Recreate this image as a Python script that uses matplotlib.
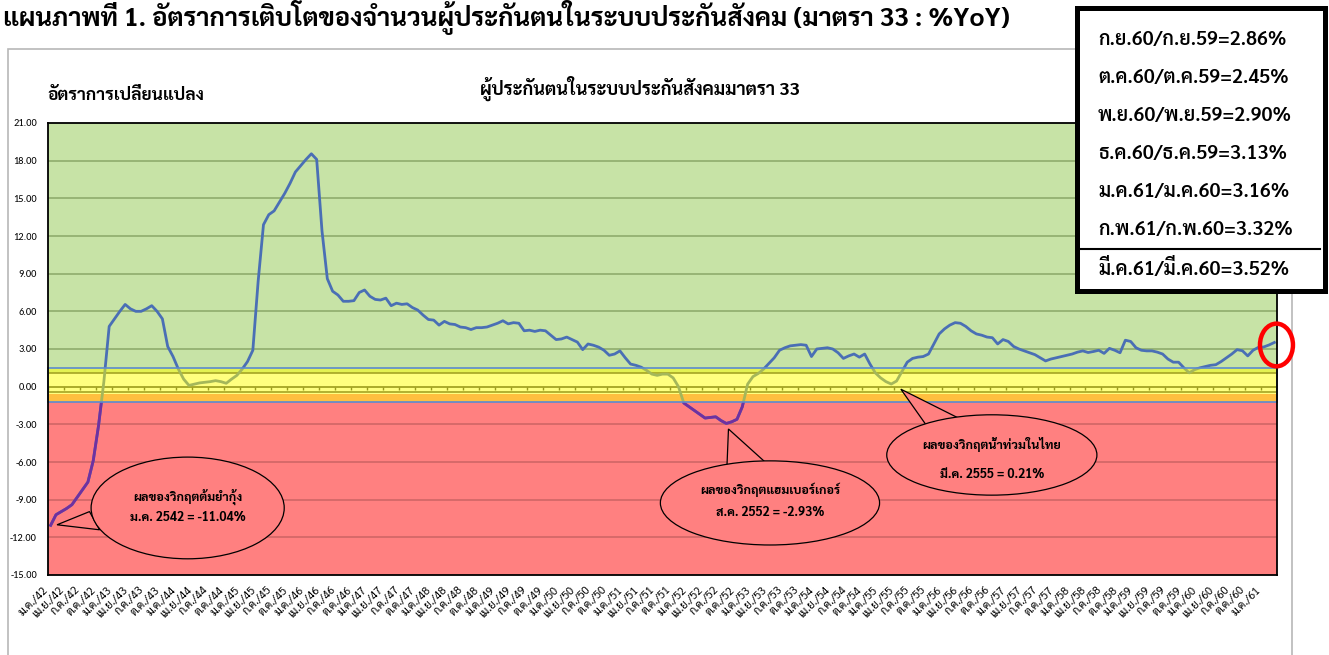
import matplotlib
matplotlib.use("Agg")
import matplotlib.pyplot as plt
from matplotlib.patches import Ellipse, Polygon, Rectangle
import numpy as np

THAI = ["Sarabun", "Noto Sans Thai Looped", "DejaVu Sans"]
NUM = ["Carlito", "Liberation Sans Narrow", "DejaVu Sans"]
plt.rcParams["font.family"] = THAI

# growth vs same month last year (%), ม.ค./42 .. มี.ค./61
yoy = [
    -11.04, -10.20, -9.95, -9.70, -9.40, -8.80, -8.20, -7.60, -5.90, -3.10, 0.40, 4.80,   # 2542
    5.40, 6.00, 6.55, 6.20, 6.00, 6.00, 6.20, 6.45, 6.00, 5.40, 3.20, 2.40,               # 2543
    1.40, 0.60, 0.10, 0.20, 0.30, 0.35, 0.40, 0.48, 0.40, 0.27, 0.60, 0.90,               # 2544
    1.40, 2.00, 2.90, 8.40, 12.90, 13.70, 14.00, 14.70, 15.40, 16.20, 17.10, 17.60,       # 2545
    18.10, 18.55, 18.10, 12.40, 8.60, 7.60, 7.30, 6.80, 6.80, 6.85, 7.50, 7.70,           # 2546
    7.20, 6.95, 6.90, 7.05, 6.45, 6.65, 6.55, 6.60, 6.30, 6.10, 5.70, 5.35,               # 2547
    5.30, 4.90, 5.20, 5.00, 4.95, 4.75, 4.70, 4.55, 4.70, 4.70, 4.75, 4.90,               # 2548
    5.05, 5.25, 5.00, 5.10, 5.05, 4.45, 4.50, 4.40, 4.50, 4.45, 4.10, 3.75,               # 2549
    3.80, 3.95, 3.75, 3.55, 2.95, 3.40, 3.30, 3.15, 2.90, 2.50, 2.60, 2.85,               # 2550
    2.30, 1.80, 1.70, 1.55, 1.30, 1.00, 0.90, 1.00, 1.00, 0.70, 0.00, -1.30,              # 2551
    -1.60, -1.90, -2.20, -2.50, -2.45, -2.40, -2.70, -2.93, -2.80, -2.60, -1.60, 0.20,    # 2552
    0.80, 1.05, 1.40, 1.85, 2.30, 2.90, 3.10, 3.25, 3.30, 3.35, 3.30, 2.40,               # 2553
    3.00, 3.05, 3.10, 3.00, 2.70, 2.25, 2.45, 2.60, 2.35, 2.60, 1.80, 1.10,               # 2554
    0.70, 0.40, 0.21, 0.45, 1.20, 1.95, 2.25, 2.35, 2.40, 2.60, 3.40, 4.20,               # 2555
    4.60, 4.90, 5.10, 5.05, 4.80, 4.45, 4.20, 4.10, 3.95, 3.90, 3.40, 3.75,               # 2556
    3.60, 3.20, 3.00, 2.85, 2.70, 2.55, 2.30, 2.05, 2.20, 2.30, 2.40, 2.50,               # 2557
    2.60, 2.75, 2.85, 2.72, 2.80, 2.90, 2.65, 3.05, 2.90, 2.70, 3.70, 3.60,               # 2558
    3.10, 2.90, 2.85, 2.85, 2.75, 2.60, 2.20, 1.95, 1.95, 1.50, 1.10, 1.35,               # 2559
    1.50, 1.60, 1.70, 1.75, 2.00, 2.30, 2.60, 2.95, 2.86, 2.45, 2.90, 3.13,               # 2560
    3.16, 3.32, 3.52,                                                                     # 2561
]
first_year = 42
quarter_months = ["ม.ค.", "เม.ย.", "ก.ค.", "ต.ค."]

latest = [
    "ก.ย.60/ก.ย.59=2.86%",
    "ต.ค.60/ต.ค.59=2.45%",
    "พ.ย.60/พ.ย.59=2.90%",
    "ธ.ค.60/ธ.ค.59=3.13%",
    "ม.ค.61/ม.ค.60=3.16%",
    "ก.พ.61/ก.พ.60=3.32%",
    "มี.ค.61/มี.ค.60=3.52%",
]

notes = [
    ("ผลของวิกฤตต้มยำกุ้ง", "ม.ค. 2542 = -11.04%"),
    ("ผลของวิกฤตแฮมเบอร์เกอร์", "ส.ค. 2552 = -2.93%"),
    ("ผลของวิกฤตน้ำท่วมในไทย", "มี.ค. 2555 = 0.21%"),
]

GREEN = "#c7e3a6"
RED = "#ff8080"
BLUE = "#4a6fb5"
PURPLE = "#7030a0"

W, H = 1329, 655
fig = plt.figure(figsize=(W / 100, H / 100), dpi=100)
ax = fig.add_axes([48 / W, 1 - 575 / H, (1277 - 48) / W, (575 - 123) / H])

x = np.arange(len(yoy))
ax.set_xlim(-0.5, len(yoy) - 0.5)
ax.set_ylim(-15, 21)

# background zones
ax.axhspan(1.05, 21, color=GREEN, zorder=0, lw=0)
ax.axhspan(-15, -0.6, color=RED, zorder=0, lw=0)
ax.axhspan(-0.6, 1.05, color="white", zorder=0, lw=0)

yt = np.arange(-15, 22, 3)
for v in yt[1:-1]:
    if v == 0:
        continue
    ax.axhline(v, color="#8aa868" if v > 0 else "#cc6464", lw=1.1, zorder=1)

# lines inside the band + the 0 axis with quarterly ticks
ax.axhline(1.05, color="#4a4a4a", lw=1.2, zorder=1.5)
ax.axhline(-0.45, color="#4a4a4a", lw=1.2, zorder=1.5)
ax.axhline(0, color="#3a3a3a", lw=1.2, zorder=1.5)
tick_pos = x[::3]
ax.vlines(tick_pos - 0.5, -0.3, 0, color="#3a3a3a", lw=1.0, zorder=1.5)

ax.plot(x, yoy, color=BLUE, lw=2.0, zorder=3, solid_joinstyle="round")
purple_line, = ax.plot(x, yoy, color=PURPLE, lw=2.0, zorder=3.1, solid_joinstyle="round")
clip = Rectangle((-1, -16), len(yoy) + 2, 16 - 1.25, transform=ax.transData)
purple_line.set_clip_path(clip)

# semi-transparent yellow band
ax.add_patch(Rectangle((-0.5, -1.25), len(yoy), 2.75, facecolor="#ffff00", alpha=0.5,
                       edgecolor="none", zorder=4))
ax.add_patch(Rectangle((-0.5, -1.25), len(yoy), 2.75, facecolor="none",
                       edgecolor="#5b8bd0", lw=1.2, zorder=4.1, clip_on=False))

for s in ax.spines.values():
    s.set_color("black")
    s.set_linewidth(1.3)
    s.set_zorder(5)

ax.set_yticks(yt)
ax.set_yticklabels([f"{v:.2f}" for v in yt], family=NUM, fontsize=7.5)
ax.tick_params(axis="y", length=0, pad=8)

labels = [f"{quarter_months[(p // 3) % 4]}/{first_year + p // 12}" for p in tick_pos]
ax.set_xticks(tick_pos)
ax.set_xticklabels(labels, rotation=45, ha="right", va="top", fontsize=8)
ax.tick_params(axis="x", length=0, pad=7)

# callouts
callouts = [
    # ellipse centre, size, pointer (tip, base1, base2), text y
    ((25.75, -9.66), (36.3, 8.1), [(1.2, -11.0), (7.3, -9.95), (9.2, -11.4)], (-8.76, -10.46)),
    ((135.2, -9.26), (41.2, 6.7), [(127.4, -3.37), (127.1, -6.5), (134.8, -6.2)], (-8.22, -10.06)),
    ((176.9, -5.44), (39.5, 6.4), [(159.8, -0.2), (164.8, -3.2), (171.1, -2.6)], (-4.59, -7.0)),
]
for (c, size, tri, ty), (l1, l2) in zip(callouts, notes):
    ax.add_patch(Polygon(tri, closed=True, facecolor=RED, edgecolor="black", lw=0.9, zorder=6))
    ax.add_patch(Ellipse(c, size[0], size[1], facecolor=RED, edgecolor="black", lw=0.9, zorder=6.1))
    ax.text(c[0], ty[0], l1, ha="center", va="center", fontsize=9, fontweight="bold", zorder=7)
    ax.text(c[0], ty[1], l2, ha="center", va="center", fontsize=9, fontweight="bold", zorder=7)

# red ring on the latest value
ax.add_patch(Ellipse((len(yoy) - 0.6, yoy[-1] - 0.2), 6.2, 3.4, facecolor="none",
                     edgecolor="#ff0000", lw=3.2, zorder=8, clip_on=False))

# titles
fig.text(47 / W, 1 - 95 / H, "อัตราการเปลี่ยนแปลง", ha="left", va="center",
         fontsize=12.5, fontweight="bold")
fig.text(640 / W, 1 - 88 / H, "ผู้ประกันตนในระบบประกันสังคมมาตรา 33", ha="center", va="center",
         fontsize=13, fontweight="bold")
fig.text(3 / W, 1 - 26 / H,
         "แผนภาพที่ 1. อัตราการเติบโตของจำนวนผู้ประกันตนในระบบประกันสังคม (มาตรา 33 : %YoY)",
         ha="left", va="baseline", fontsize=18.5, fontweight="bold")

# chart area frame
fig.add_artist(Rectangle((8 / W, -0.1), (1292 - 8) / W, 0.1 + 1 - 49 / H, transform=fig.transFigure,
                         facecolor="none", edgecolor="#b8b8b8", lw=1.2, zorder=0))

# info box
fig.add_artist(Rectangle((1076.5 / W, 1 - 290.5 / H), 248 / W, 283 / H, transform=fig.transFigure,
                         facecolor="white", edgecolor="black", lw=3.6, zorder=9))
for k, s in enumerate(latest):
    fig.text(1098 / W, 1 - (40 + 38.1 * k) / H, s, ha="left", va="center",
             fontsize=14, fontweight=600, zorder=10)
fig.add_artist(plt.Line2D([1079 / W, 1320 / W], [1 - 248.5 / H, 1 - 248.5 / H],
                          transform=fig.transFigure, color="black", lw=1.5, zorder=10))

fig.savefig("out.png", dpi=100)
